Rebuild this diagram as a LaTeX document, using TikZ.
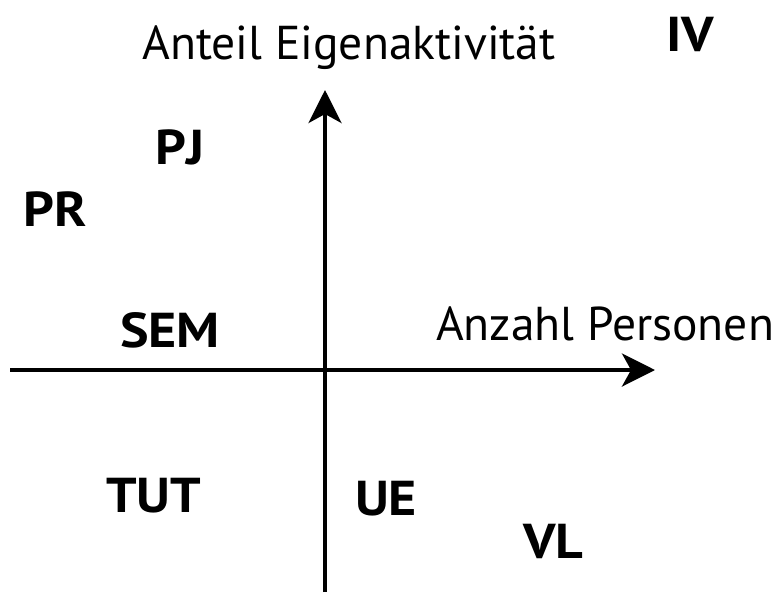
\documentclass[tikz,border=0pt]{standalone}
\usepackage{fontspec}
\setmainfont{PT Sans}
\newfontfamily\catfont[FakeStretch=1.1]{PT Sans Bold}
\usetikzlibrary{arrows.meta}
\begin{document}
\begin{tikzpicture}[x=1pt,y=-1pt,
  axis/.style={line width=4pt,-{Stealth[length=33pt,width=33pt,inset=9pt]}},
  axlabel/.style={inner sep=0pt,font=\fontsize{47.5}{52}\selectfont},
  cat/.style={inner sep=0pt,anchor=base west,font=\fontsize{49}{54}\catfont}]
\useasboundingbox (0,0) rectangle (782,592);
\coordinate (xs) at (10,370);
\coordinate (xe) at (655,370);
\coordinate (ys) at (325,592);
\coordinate (ye) at (325,90);
\draw[axis] (xs) -- (xe);
\draw[axis] (ys) -- (ye);
\node[axlabel,anchor=base] (yl) at (349,59) {Anteil Eigenaktivität};
\node[axlabel,anchor=base west] (xl) at (436,340) {Anzahl Personen};
\node[cat] (iv) at (666,51) {IV};
\node[cat] (pj) at (155,164) {PJ};
\node[cat] (pr) at (23,226) {PR};
\node[cat] (sem) at (120,347) {SEM};
\node[cat] (tut) at (106,512) {TUT};
\node[cat] (ue) at (355,515) {UE};
\node[cat] (vl) at (523,558) {VL};
\end{tikzpicture}
\end{document}
